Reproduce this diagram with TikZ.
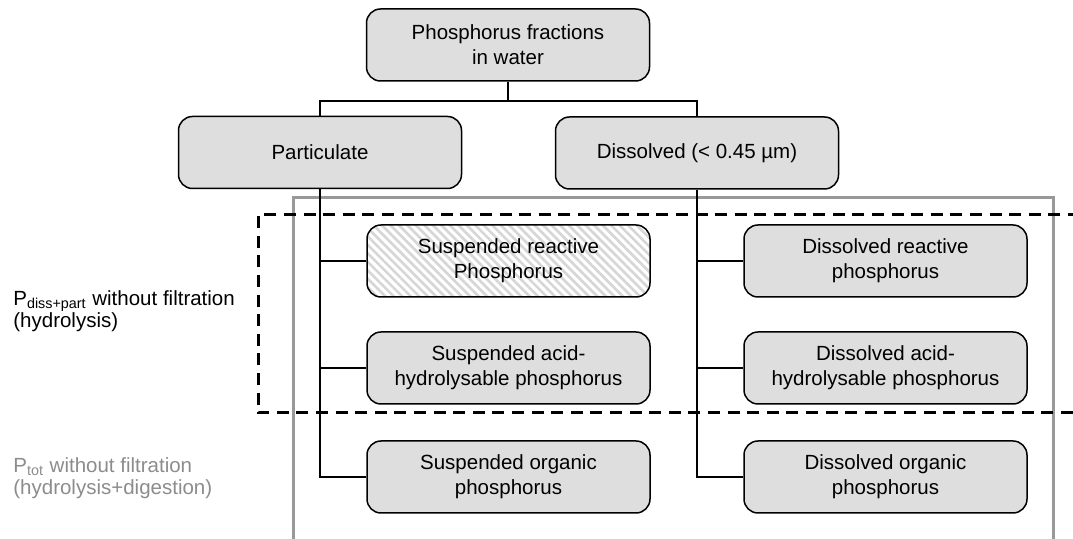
\documentclass[tikz,border=0pt]{standalone}
\usepackage{fontspec}
\setmainfont{Liberation Sans}
\usetikzlibrary{patterns.meta}

\definecolor{boxgray}{HTML}{DEDEDE}
\definecolor{framegray}{HTML}{999999}
\definecolor{labelgray}{HTML}{8C8C8C}

\tikzset{
  pbox/.style={draw, line width=0.75pt, fill=boxgray, rounded corners=7pt,
    minimum width=141.5pt, minimum height=36pt, align=center, inner sep=2pt,
    font=\fontsize{10.25}{12.5}\selectfont},
  hatchbox/.style={pbox, preaction={fill=white},
    pattern={Lines[angle=-45,distance=3pt,line width=1.3pt]}, pattern color=black!16},
  link/.style={line width=1pt},
  sidelabel/.style={anchor=west, align=left, inner sep=0pt,
    font=\fontsize{10.25}{11}\selectfont}
}

\begin{document}
\begin{tikzpicture}[x=0.5pt, y=-0.5pt]
\useasboundingbox (0,0) rectangle (1073,539);

% frames
\draw[framegray, line width=1.5pt] (293,545) -- (293,198) -- (1053,198) -- (1053,545);
\draw[line width=1.5pt, dash pattern=on 6pt off 3.8pt] (1080,215) -- (258,215) -- (258,413) -- (1080,413);

% boxes
\node[pbox] (water) at (508,45) {Phosphorus fractions\\in water};
\node[pbox] (part) at (320,152.5) {Particulate};
\node[pbox] (diss) at (697,153) {Dissolved (< 0.45 µm)};

\node[hatchbox] (sreact) at (508.5,261) {Suspended reactive\\Phosphorus};
\node[pbox] (sacid) at (508.5,368) {Suspended acid-\\hydrolysable phosphorus};
\node[pbox] (sorg) at (508.5,477) {Suspended organic\\phosphorus};

\node[pbox] (dreact) at (885.5,261) {Dissolved reactive\\phosphorus};
\node[pbox] (dacid) at (885.5,368) {Dissolved acid-\\hydrolysable phosphorus};
\node[pbox] (dorg) at (885.5,477) {Dissolved organic\\phosphorus};

% connectors
\coordinate (split) at (508,101);
\draw[link] (water.south) -- (split);
\draw[link] (part.north) |- (split) -| (diss.north);
\foreach \n in {sreact,sacid,sorg}
  \draw[link] (part.south) |- (\n.west);
\foreach \n in {dreact,dacid,dorg}
  \draw[link] (diss.south) |- (\n.west);

% side labels
\node[sidelabel] (hydro) at (13,311) {P\textsubscript{diss+part} without filtration\\(hydrolysis)};
\node[sidelabel, labelgray] (digest) at (13,478) {P\textsubscript{tot} without filtration\\(hydrolysis+digestion)};
\end{tikzpicture}
\end{document}
